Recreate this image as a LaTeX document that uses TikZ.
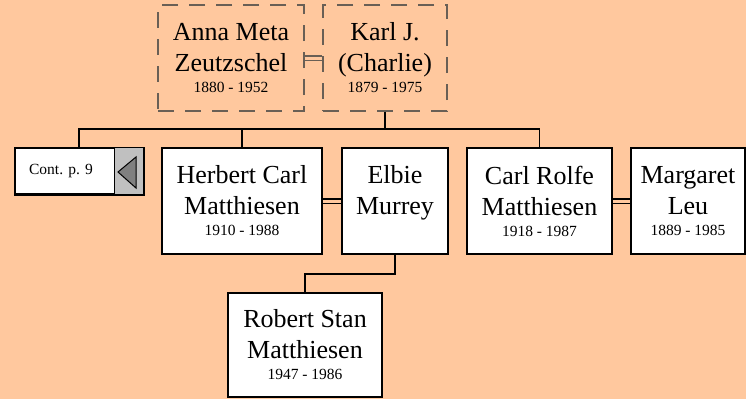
\documentclass[tikz,border=0pt]{standalone}
\usepackage{fontspec}
\setmainfont{Liberation Serif}
\definecolor{bg}{RGB}{255,200,158}
\definecolor{dashcol}{RGB}{105,95,85}
\definecolor{tabgray}{RGB}{192,192,192}
\definecolor{arrgray}{RGB}{128,128,128}
\newcommand{\datefont}{\fontsize{15.5}{18}\selectfont}
\tikzset{
  person/.style={draw=black, line width=1.5pt, fill=white, inner sep=0pt,
    align=center, font=\fontsize{26}{31}\selectfont},
  parent/.style={draw=dashcol, line width=1.2pt, dash pattern=on 16pt off 11pt,
    inner sep=0pt, align=center, font=\fontsize{26}{31}\selectfont},
  link/.style={draw=black, line width=1.5pt},
  marriage/.style={double=bg, double distance=3pt, line width=1.4pt, draw=black},
  pmarriage/.style={double=bg, double distance=3pt, line width=1.2pt, draw=dashcol},
}
\begin{document}
\begin{tikzpicture}[x=1pt, y=-1pt]
\fill[bg] (0,0) rectangle (746,399);
\useasboundingbox (0,0) rectangle (746,399);

% parents
\node[parent, minimum width=146pt, minimum height=106pt] (anna) at (231,58)
  {Anna Meta\\Zeutzschel\\[-10pt]{\datefont 1880 - 1952}};
\node[parent, minimum width=124pt, minimum height=106pt] (karl) at (385,58)
  {Karl J.\\(Charlie)\\[-10pt]{\datefont 1879 - 1975}};

% children row
\node[person, minimum width=128pt, minimum height=46pt, font=\datefont] (cont) at (79,171)
  {\makebox[92pt]{Cont. p. 9}\hspace*{36pt}};
\node[person, minimum width=160pt, minimum height=106pt] (herbert) at (242,201)
  {Herbert Carl\\Matthiesen\\[-10pt]{\datefont 1910 - 1988}};
\node[person, minimum width=106pt, minimum height=106pt] (elbie) at (395,201)
  {Elbie\\Murrey\\[-10pt]{\datefont\phantom{1910 - 1988}}};
\node[person, minimum width=145pt, minimum height=106pt] (carl) at (539.5,201)
  {Carl Rolfe\\Matthiesen\\[-10pt]{\datefont 1918 - 1987}};
\node[person, minimum width=114pt, minimum height=106pt] (margaret) at (688,201)
  {Margaret\\Leu\\[-10pt]{\datefont 1889 - 1985}};
\node[person, minimum width=154pt, minimum height=104pt] (robert) at (305,345)
  {Robert Stan\\Matthiesen\\[-10pt]{\datefont 1947 - 1986}};

% continuation tab
\fill[tabgray] ([xshift=-29pt,yshift=-0.75pt]cont.north east) rectangle ([xshift=-0.75pt,yshift=0.75pt]cont.south east);
\draw[black, line width=1pt] ([xshift=-29pt]cont.north east) -- ([xshift=-29pt]cont.south east);
\draw[link] (cont.north west) rectangle (cont.south east);
\filldraw[fill=arrgray, draw=black, line width=1pt] (118,172) -- (136,157) -- (136,188) -- cycle;

% marriages
\draw[pmarriage] (anna.east) -- (karl.west);
\draw[marriage] (herbert.east) -- (elbie.west);
\draw[marriage] (carl.east) -- (margaret.west);

% descent
\coordinate (bus) at (karl.south |- 0,129);
\draw[link] (karl.south) -- (bus);
\draw[link] (cont.north) |- (bus) -| (carl.north);
\draw[link] (herbert.north) -- (herbert.north |- bus);
\draw[link] (elbie.south) -- ++(0,19) -| (robert.north);
\end{tikzpicture}
\end{document}
